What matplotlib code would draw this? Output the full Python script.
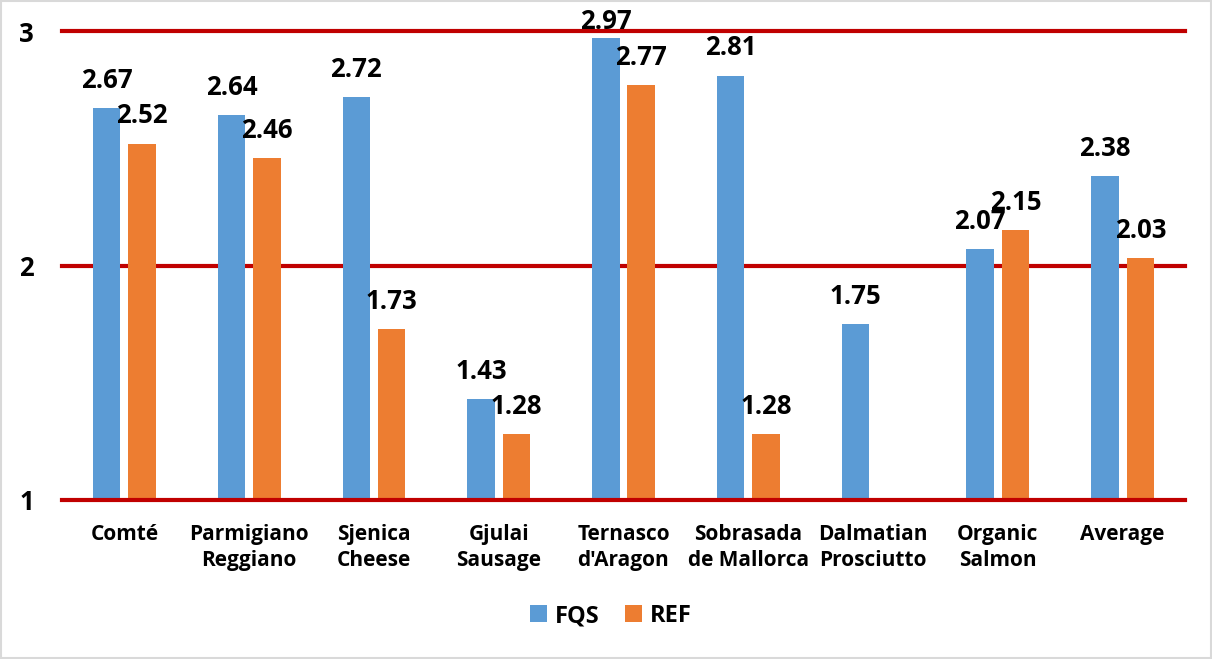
import matplotlib
matplotlib.use("Agg")
import matplotlib.pyplot as plt
import numpy as np
from matplotlib.patches import Rectangle
from matplotlib import font_manager

categories = ["Comté", "Parmigiano\nReggiano", "Sjenica\nCheese", "Gjulai\nSausage",
              "Ternasco\nd'Aragon", "Sobrasada\nde Mallorca", "Dalmatian\nProsciutto",
              "Organic\nSalmon", "Average"]
fqs = [2.67, 2.64, 2.72, 1.43, 2.97, 2.81, 1.75, 2.07, 2.38]
ref = [2.52, 2.46, 1.73, 1.28, 2.77, 1.28, None, 2.15, 2.03]
series_names = ["FQS", "REF"]
yticks = [1, 2, 3]

fam = "DejaVu Sans"
for cand in ["Open Sans", "Lato", "Roboto", "Liberation Sans"]:
    for f in font_manager.fontManager.ttflist:
        if f.name == cand and (f.weight in (700, "bold") or "bold" in str(f.weight)):
            fam = cand
            break
    if fam != "DejaVu Sans":
        break
plt.rcParams['font.family'] = [fam, 'DejaVu Sans']

fig = plt.figure(figsize=(12.12, 6.59), dpi=100)
ax = fig.add_axes([62/1212, 1-500/659, (1185-62)/1212, (500-31)/659])

blue = "#5B9BD5"
orange = "#ED7D31"
x = np.arange(len(categories))
w = 0.22
off = 0.142

fv = np.array(fqs, dtype=float)
rv = np.array([np.nan if v is None else v for v in ref], dtype=float)

ax.bar(x - off, fv - 1, w, bottom=1, color=blue, label=series_names[0], zorder=2)
ax.bar(x + off, np.nan_to_num(rv - 1), w, bottom=1, color=orange, label=series_names[1], zorder=2)

gap = 0.06
ymax_lab = 2.985
def lab(xp, v):
    ax.text(xp, min(v + gap, ymax_lab), f"{v:.2f}", ha="center", va="bottom",
            fontsize=18.5, fontweight="bold", color="black", clip_on=False, zorder=4)

for xi, v in zip(x, fv):
    lab(xi - off, v)
for xi, v in zip(x, rv):
    if not np.isnan(v):
        lab(xi + off, v)

ax.set_xlim(-0.5, len(categories) - 0.5)
ax.set_ylim(1, 3)
ax.set_yticks(yticks)
ax.set_yticklabels([str(t) for t in yticks], fontsize=18.5, fontweight="bold")
ax.set_xticks(x)
ax.set_xticklabels(categories, fontsize=15, fontweight="bold", linespacing=1.35)
ax.tick_params(axis="y", length=0, pad=20)
ax.tick_params(axis="x", length=0, pad=17)
for s in ax.spines.values():
    s.set_visible(False)
for t in yticks:
    ax.axhline(t, color="#C00000", lw=3, zorder=3 if t == 1 else 1, clip_on=False)

leg = fig.legend(loc="center", bbox_to_anchor=(611/1212, 1-616/659), ncol=2, frameon=False,
                 prop={"size": 17, "weight": "bold"}, handlelength=0.7, handleheight=0.7,
                 handletextpad=0.35, columnspacing=1.1)

fig.patches.append(Rectangle((1/1212, 1/659), 1-2/1212, 1-2/659, transform=fig.transFigure,
                             fill=False, edgecolor="#D9D9D9", lw=1.5))

fig.savefig("out.png", dpi=100)
